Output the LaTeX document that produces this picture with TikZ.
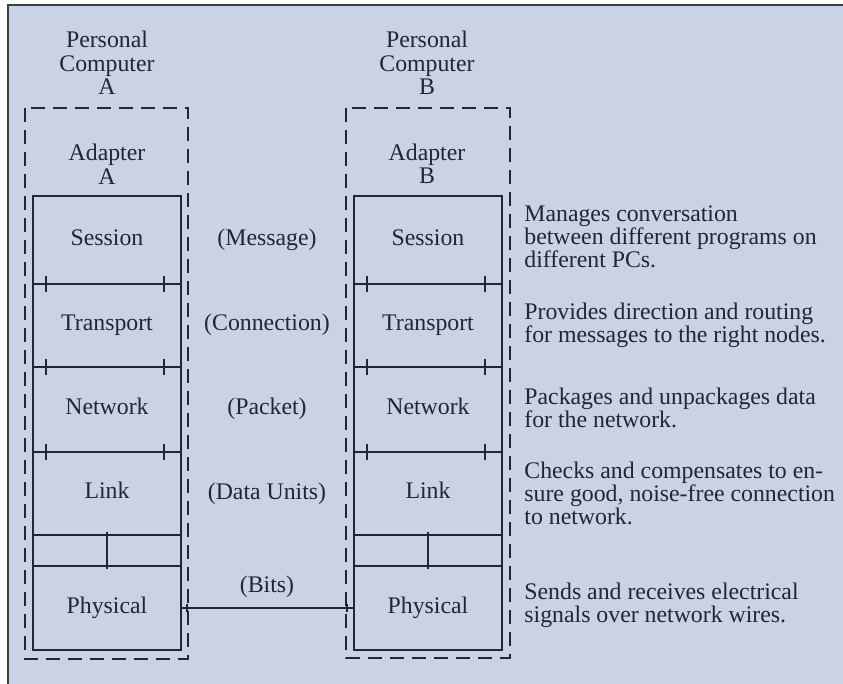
\documentclass[tikz,border=0pt]{standalone}
\usepackage{fontspec}
\setmainfont{Liberation Serif}
\usepackage{tikz}
\usetikzlibrary{positioning}
\definecolor{ink}{HTML}{22262F}
\definecolor{paper}{HTML}{C9D3E5}
\definecolor{rulegray}{HTML}{3A3F4A}
\tikzset{
  every node/.style={font=\fontsize{11.9}{11.5}\selectfont,text=ink},
  layer/.style={draw=ink,line width=0.7pt,minimum width=74pt,outer sep=0pt,inner sep=0pt,text height=8pt,text depth=2.6pt},
  pdu/.style={inner sep=0pt,text height=8pt,text depth=2.6pt},
  caption/.style={align=center,inner sep=0pt,font=\fontsize{11.9}{11.75}\selectfont},
  desc/.style={align=left,anchor=west,inner sep=0pt},
  adapterbox/.style={draw=ink,line width=0.7pt,dash pattern=on 7pt off 4pt},
  tick/.style={draw=ink,line width=0.7pt},
  wire/.style={draw=ink,line width=0.8pt}
}
\begin{document}
\begin{tikzpicture}[x=0.5pt,y=-0.5pt]
  \useasboundingbox (0,0) rectangle (843,684);
  \fill[paper] (8,5) rectangle (843,684);
  \draw[rulegray,line width=1.2pt] (8,684) -- (8,5) -- (843,5);

  \node[caption] (pcA) at (107,63) {Personal\\Computer\\A};
  \node[caption] (adA) at (107,164) {Adapter\\A};
  \draw[adapterbox] (25,108) rectangle (188,659);
  \node[layer,minimum height=44pt] (sesA) at (107,240) {Session};
  \node[layer,minimum height=41.5pt,below=0pt of sesA] (traA) {Transport};
  \node[layer,minimum height=42.5pt,below=0pt of traA] (netA) {Network};
  \node[layer,minimum height=41.5pt,below=0pt of netA] (lnkA) {Link};
  \node[layer,minimum height=15.5pt,below=0pt of lnkA] (gapA) {};
  \node[layer,minimum height=42pt,below=0pt of gapA] (phyA) {Physical};

  \node[caption] (pcB) at (427,63) {Personal\\Computer\\B};
  \node[caption] (adB) at (427,164) {Adapter\\B};
  \draw[adapterbox] (346,108) rectangle (510,658);
  \node[layer,minimum height=44pt] (sesB) at (428,240) {Session};
  \node[layer,minimum height=41.5pt,below=0pt of sesB] (traB) {Transport};
  \node[layer,minimum height=42.5pt,below=0pt of traB] (netB) {Network};
  \node[layer,minimum height=41.5pt,below=0pt of netB] (lnkB) {Link};
  \node[layer,minimum height=15.5pt,below=0pt of lnkB] (gapB) {};
  \node[layer,minimum height=42pt,below=0pt of gapB] (phyB) {Physical};

  \foreach \l in {sesA,traA,netA,sesB,traB,netB}{
    \draw[tick] ([xshift=6.5pt,yshift=4pt]\l.south west) -- ++(0,-8pt);
    \draw[tick] ([xshift=-8.5pt,yshift=4pt]\l.south east) -- ++(0,-8pt);
  }
  \foreach \l in {gapA,gapB}
    \draw[tick] ([yshift=1.5pt]\l.north) -- ([yshift=-1.5pt]\l.south);

  \node[pdu] (msg) at (267,240) {(Message)};
  \node[pdu] (con) at (267,325) {(Connection)};
  \node[pdu] (pkt) at (267,409) {(Packet)};
  \node[pdu] (du) at (267,494) {(Data Units)};
  \node[pdu] (bits) at (267,587) {(Bits)};

  \draw[wire] (phyA.east) -- (phyB.west);
  \draw[tick] ([xshift=3pt,yshift=2pt]phyA.east) -- ++(0,-4pt);
  \draw[tick] ([xshift=-3.5pt,yshift=2pt]phyB.west) -- ++(0,-4pt);

  \node[desc] (dSes) at (524,237) {Manages conversation\\between different programs on\\different PCs.};
  \node[desc] (dTra) at (524,325) {Provides direction and routing\\for messages to the right nodes.};
  \node[desc] (dNet) at (524,408) {Packages and unpackages data\\for the network.};
  \node[desc] (dLnk) at (524,493) {Checks and compensates to en-\\sure good, noise-free connection\\to network.};
  \node[desc] (dPhy) at (524,605) {Sends and receives electrical\\signals over network wires.};
\end{tikzpicture}
\end{document}
